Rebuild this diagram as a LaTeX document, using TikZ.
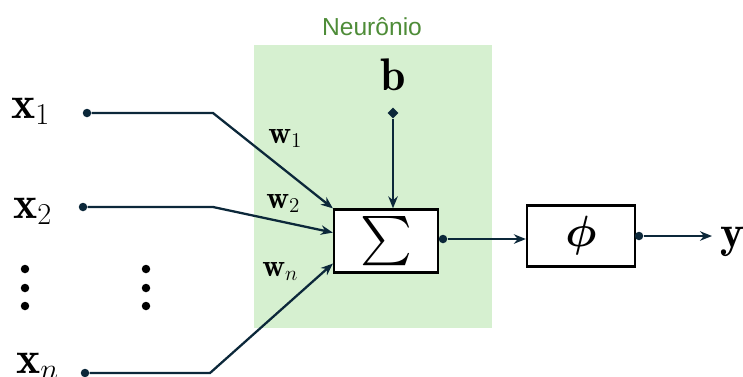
\documentclass[tikz,border=0pt]{standalone}
\usepackage{amsmath,amssymb,bm}
\usepackage{fontspec}
\newfontfamily\labelfont{Liberation Sans}
\usetikzlibrary{arrows.meta,positioning,calc,shapes.geometric}

\definecolor{wire}{RGB}{12,40,58}
\definecolor{neurongreen}{RGB}{214,240,208}
\definecolor{neurontext}{RGB}{78,140,56}

\begin{document}
\begin{tikzpicture}[
        x=0.02cm, y=-0.02cm,
        wire/.style={draw=wire, line width=1.3pt},
        arr/.style={wire, -{Stealth[length=0.24cm,width=0.19cm]}, line join=miter},
        dot/.style={circle,fill=wire,minimum size=0.17cm,inner sep=0pt},
        tip/.style={diamond,fill=wire,minimum size=0.22cm,inner sep=0pt},
        block/.style={draw=black, line width=1.3pt, fill=white, inner sep=0pt},
        var/.style={font=\fontsize{26}{30}\selectfont, inner sep=0pt, anchor=base west},
        weight/.style={font=\fontsize{18}{21}\selectfont, inner sep=0pt, anchor=base west},
    ]
    \useasboundingbox (0,0) rectangle (743,376);
    % neuron area
    \fill[neurongreen] (254,45) rectangle (492,328);
    \node[font={\labelfont\fontsize{14}{16}\selectfont}, text=neurontext] (neuron) at (372,27) {Neurônio};

    % blocks
    \node[block, minimum width=2.08cm, minimum height=1.26cm,
          font=\fontsize{28}{32}\selectfont] (sum) at (386,241) {$\sum$};
    \node[block, minimum width=2.16cm, minimum height=1.22cm,
          font=\fontsize{27}{31}\selectfont] (act) at (581,236) {$\bm{\phi}$};

    % inputs
    \node[dot] (x1dot) at (87,113) {};
    \node[dot] (x2dot) at (83,207) {};
    \node[dot] (xndot) at (85,373) {};
    \node[var] (x1) at (11,118) {$\mathbf{x}_1$};
    \node[var] (x2) at (13,218) {$\mathbf{x}_2$};
    \node[var] (xn) at (16,373) {$\mathbf{x}_n$};
    \foreach \x in {25,146}
        \foreach \y in {269,288,306}
            \fill (\x,\y) circle (0.085cm);

    \coordinate (x1bend) at (213,113);
    \coordinate (x2bend) at (213,207);
    \coordinate (xnbend) at (210,373);
    \draw[arr] (x1dot) -- (x1bend) -- (sum.north west);
    \draw[arr] (x2dot) -- (x2bend) -- (sum.171);
    \draw[arr] (xndot) -- (xnbend) -- (sum.203);

    % weights
    \node[weight] (w1) at (268,143) {$\mathbf{w}_1$};
    \node[weight] (w2) at (266,208) {$\mathbf{w}_2$};
    \node[weight] (wn) at (262,276) {$\mathbf{w}_n$};

    % bias
    \node[tip] (bias) at (393,113) {};
    \node[var, anchor=base] (b) at (393,90) {$\mathbf{b}$};
    \draw[arr] (bias) -- (bias |- sum.north);

    % output
    \node[dot] (sumout) at (443,239) {};
    \draw[arr] (sumout) -- (sumout -| act.west);
    \node[dot] (actout) at (639,236) {};
    \node[var] (y) at (720,247) {$\mathbf{y}$};
    \draw[arr, shorten >=0.16cm] (actout) -- (actout -| y.west);
\end{tikzpicture}
\end{document}
